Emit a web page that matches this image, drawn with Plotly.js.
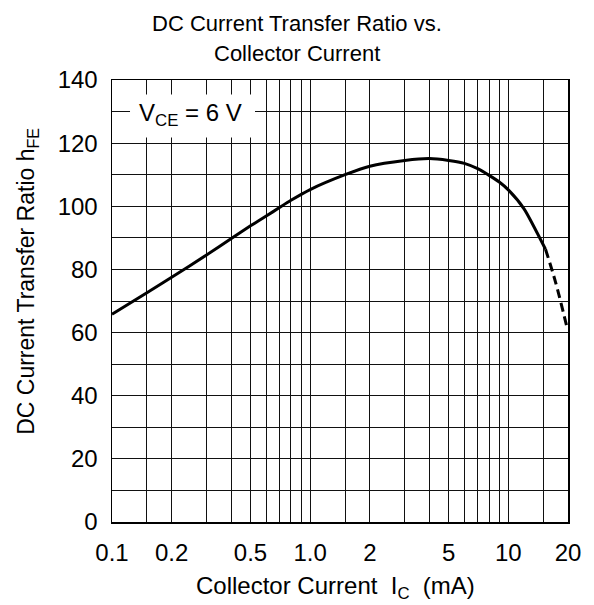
<!DOCTYPE html>
<html>
<head>
<meta charset="utf-8">
<script src="https://cdn.plot.ly/plotly-3.0.1.min.js"></script>
<style>html,body{margin:0;padding:0;background:#fff;}#chart{width:594px;height:605px;}</style>
</head>
<body>
<div id="chart"></div>
<script>
// Solid portion of the curve (Collector current in mA, hFE)
var icSolid = [0.1, 0.15, 0.2, 0.3, 0.4, 0.5, 0.6, 0.7, 0.8, 1.0, 1.5, 2, 3, 4, 5, 6, 7, 8, 9, 10, 12, 15.4];
var hfeSolid = [65.8, 72.6, 77.5, 84.6, 89.8, 93.8, 96.9, 99.6, 101.9, 105.3, 110, 112.7, 114.5, 115.1, 114.5, 113.6, 111.9, 109.8, 107.7, 105.2, 99.2, 86.4];
// Dashed (extrapolated) portion
var icDash = [15.4, 17.3, 19.8];
var hfeDash = [86.4, 76, 61.4];

var xTickVals = [0.1, 0.2, 0.5, 1, 2, 5, 10, 20];
var xTickText = ['0.1', '0.2', '0.5', '1.0', '2', '5', '10', '20'];
var xMinorVals = [0.15, 0.3, 0.4, 0.6, 0.7, 0.8, 0.9, 1.5, 3, 4, 6, 7, 8, 9, 15];

var titleLines = ['DC Current Transfer Ratio vs.', 'Collector Current'];
var yTitle = 'DC Current Transfer Ratio h<sub>FE</sub>';
var xTitle = 'Collector Current\u00a0\u00a0I<sub>C</sub>\u00a0\u00a0(mA)';
var condLabel = 'V<sub>CE</sub> = 6 V';

var FONT = 'Liberation Sans, Arial, sans-serif';

var traces = [
  {x: icSolid, y: hfeSolid, type: 'scatter', mode: 'lines',
   line: {color: '#000', width: 3, shape: 'spline', smoothing: 0.6}, hoverinfo: 'skip'},
  {x: icDash, y: hfeDash, type: 'scatter', mode: 'lines',
   line: {color: '#000', width: 3, dash: '9px,5px', shape: 'spline'}, hoverinfo: 'skip'}
];

var layout = {
  width: 594, height: 605,
  margin: {l: 112, r: 26, t: 80, b: 83, pad: 0},
  paper_bgcolor: '#fff', plot_bgcolor: '#fff',
  showlegend: false,
  font: {family: FONT, size: 24, color: '#000'},
  xaxis: {type: 'log', range: [-1, Math.log10(20)],
          tickmode: 'array', tickvals: xTickVals, ticktext: xTickText,
          ticks: '', ticklabelstandoff: 9,
          showgrid: true, gridcolor: '#111', gridwidth: 1,
          minor: {tickmode: 'array', tickvals: xMinorVals, showgrid: true, gridcolor: '#111', gridwidth: 1, ticks: ''},
          showline: true, linecolor: '#000', linewidth: 1.5, mirror: true,
          zeroline: false, tickfont: {family: FONT, size: 24, color: '#000'}},
  yaxis: {range: [0, 140], tickmode: 'linear', tick0: 0, dtick: 20,
          ticks: '', ticklabelstandoff: 8,
          showgrid: true, gridcolor: '#111', gridwidth: 1,
          minor: {tickmode: 'linear', tick0: 0, dtick: 10, showgrid: true, gridcolor: '#111', gridwidth: 1, ticks: ''},
          showline: true, linecolor: '#000', linewidth: 1.5, mirror: true,
          zeroline: false, tickfont: {family: FONT, size: 24, color: '#000'}},
  shapes: [
    {type: 'rect', xref: 'x domain', yref: 'y domain', x0: 0.0395, x1: 0.3136, y0: 0.870, y1: 0.967,
     fillcolor: '#fff', line: {width: 0}, layer: 'above'}
  ],
  annotations: [
    {text: titleLines[0], xref: 'paper', yref: 'paper', x: 0.4057, y: 1.128,
     xanchor: 'center', yanchor: 'middle', showarrow: false,
     font: {family: FONT, size: 22, color: '#000'}},
    {text: titleLines[1], xref: 'paper', yref: 'paper', x: 0.4057, y: 1.060,
     xanchor: 'center', yanchor: 'middle', showarrow: false,
     font: {family: FONT, size: 22, color: '#000'}},
    {text: condLabel, xref: 'x domain', yref: 'y domain', x: 0.173, y: 0.922,
     xanchor: 'center', yanchor: 'middle', showarrow: false,
     font: {family: FONT, size: 24, color: '#000'}},
    {text: yTitle, xref: 'paper', yref: 'paper',
     x: -0.184, y: 0.5436, xanchor: 'center', yanchor: 'middle', textangle: -90, showarrow: false,
     font: {family: FONT, size: 23, color: '#000'}},
    {text: xTitle, xref: 'paper', yref: 'paper',
     x: 0.491, y: -0.148, xanchor: 'center', yanchor: 'middle', showarrow: false,
     font: {family: FONT, size: 24, color: '#000'}}
  ]
};

Plotly.newPlot('chart', traces, layout, {displayModeBar: false, staticPlot: true});
</script>
</body>
</html>
